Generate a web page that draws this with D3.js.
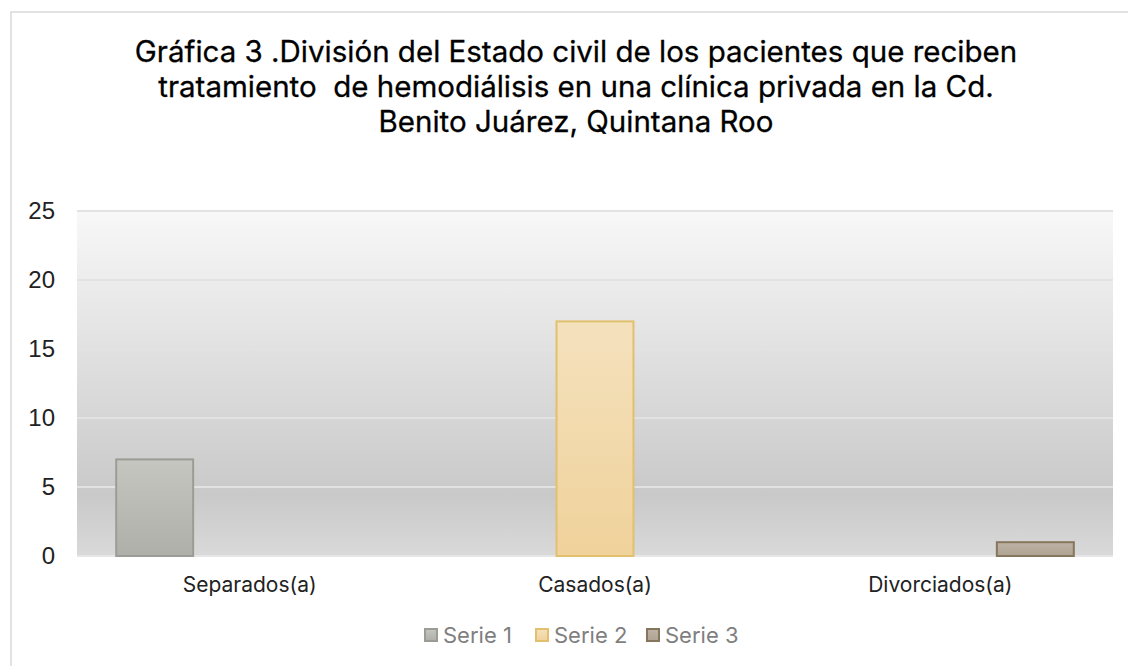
<!DOCTYPE html>
<html>
<head>
<meta charset="utf-8">
<script src="https://cdn.jsdelivr.net/npm/d3@7"></script>
<style>
  body { margin: 0; background: #fff; }
  text { font-family: Inter, "Liberation Sans", sans-serif; }
</style>
</head>
<body>
<div id="chart"></div>
<script>
// Data
const categories = ['Separados(a)', 'Casados(a)', 'Divorciados(a)']
const seriesNames = ['Serie 1', 'Serie 2', 'Serie 3']
const serie1 = [7, 0, 0]
const serie2 = [0, 17, 0]
const serie3 = [0, 0, 1]
const yTicks = [0, 5, 10, 15, 20, 25]
const titleLines = [
  'Gráfica 3 .División del Estado civil de los pacientes que reciben',
  'tratamiento  de hemodiálisis en una clínica privada en la Cd.',
  'Benito Juárez, Quintana Roo'
]

const width = 1128,
  height = 666
const plot = { left: 77, right: 1113, top: 211, bottom: 556 }

const fills = [['#c6c6c1', '#afafa9'], ['#f4e1bd', '#f0d29b'], ['#bdb3a5', '#afa392']]
const strokes = ['#9c9c96', '#e2c06e', '#85765d']

let svg = d3.select('#chart')
  .append('svg')
  .attr('width', width)
  .attr('height', height)

let defs = svg.append('defs')

let bg = defs.append('linearGradient').attr('id', 'bg')
  .attr('x1', 0).attr('y1', 0).attr('x2', 0).attr('y2', 1)
bg.append('stop').attr('offset', '0%').attr('stop-color', '#f8f8f8')
bg.append('stop').attr('offset', '82%').attr('stop-color', '#c9c9c9')
bg.append('stop').attr('offset', '100%').attr('stop-color', '#d9d9d9')

fills.forEach((f, i) => {
  let g = defs.append('linearGradient').attr('id', 'bar' + i)
    .attr('x1', 0).attr('y1', 0).attr('x2', 0).attr('y2', 1)
  g.append('stop').attr('offset', '0%').attr('stop-color', f[0])
  g.append('stop').attr('offset', '100%').attr('stop-color', f[1])
})

// chart frame
svg.append('rect')
  .attr('x', 11).attr('y', 12)
  .attr('width', width + 20).attr('height', height + 20)
  .attr('fill', 'none')
  .attr('stroke', '#d9d9d9')
  .attr('stroke-width', 1.5)

// title
svg.append('g').selectAll('text')
  .data(titleLines)
  .enter()
  .append('text')
  .attr('x', 576)
  .attr('y', (d, i) => 62 + i * 35)
  .attr('text-anchor', 'middle')
  .style('font-size', '29.5px')
  .style('white-space', 'pre')
  .attr('fill', '#000')
  .attr('stroke', '#000')
  .attr('stroke-width', 0.3)
  .text(d => d)

// scales
const y = d3.scaleLinear().domain([0, 25]).range([plot.bottom, plot.top])
const x0 = d3.scaleBand().domain(categories)
  .range([plot.left, plot.right])
  .paddingInner(0.227).paddingOuter(0.1135)
const x1 = d3.scaleBand().domain(seriesNames)
  .range([0, x0.bandwidth()])
  .paddingInner(0.19)

// plot background
svg.append('rect')
  .attr('x', plot.left).attr('y', y(25))
  .attr('width', plot.right - plot.left)
  .attr('height', y(0) - y(25))
  .attr('fill', 'url(#bg)')

// gridlines
svg.append('g').selectAll('line')
  .data(yTicks)
  .enter()
  .append('line')
  .attr('x1', plot.left).attr('x2', plot.right)
  .attr('y1', d => y(d)).attr('y2', d => y(d))
  .attr('stroke', d => d === 0 ? '#e6e6e6' : '#e2e2e2')
  .attr('stroke-width', 2)

// y axis labels
svg.append('g')
  .attr('transform', 'translate(' + (plot.left - 22) + ',0)')
  .call(d3.axisLeft(y).tickValues(yTicks).tickSize(0).tickPadding(0))
  .call(g => g.select('.domain').remove())
  .selectAll('text')
  .style('font-family', '"Liberation Sans", Arial, sans-serif')
  .style('font-size', '24px')
  .attr('fill', '#222')

// x axis labels
svg.append('g')
  .attr('transform', 'translate(0,' + plot.bottom + ')')
  .call(d3.axisBottom(x0).tickSize(0).tickPadding(21))
  .call(g => g.select('.domain').remove())
  .selectAll('text')
  .style('font-size', '21px')
  .attr('fill', '#222')

// bars
const series = [serie1, serie2, serie3]
series.forEach((vals, si) => {
  svg.append('g').selectAll('rect')
    .data(vals.map((v, ci) => ({ cat: categories[ci], value: v })).filter(d => d.value > 0))
    .enter()
    .append('rect')
    .attr('x', d => x0(d.cat) + x1(seriesNames[si]))
    .attr('y', d => y(d.value))
    .attr('width', x1.bandwidth())
    .attr('height', d => y(0) - y(d.value))
    .attr('fill', 'url(#bar' + si + ')')
    .attr('stroke', strokes[si])
    .attr('stroke-width', 2)
})

// legend
let legend = svg.append('g')
let lx = 425
seriesNames.forEach((name, i) => {
  let item = legend.append('g').attr('transform', 'translate(' + (lx + i * 111) + ',629)')
  item.append('rect')
    .attr('x', 0).attr('y', 0)
    .attr('width', 12).attr('height', 12)
    .attr('fill', 'url(#bar' + i + ')')
    .attr('stroke', strokes[i])
    .attr('stroke-width', 2)
  item.append('text')
    .attr('x', 18).attr('y', 14)
    .style('font-size', '22px')
    .attr('fill', '#7f7f7f')
    .text(name)
})
</script>
</body>
</html>
